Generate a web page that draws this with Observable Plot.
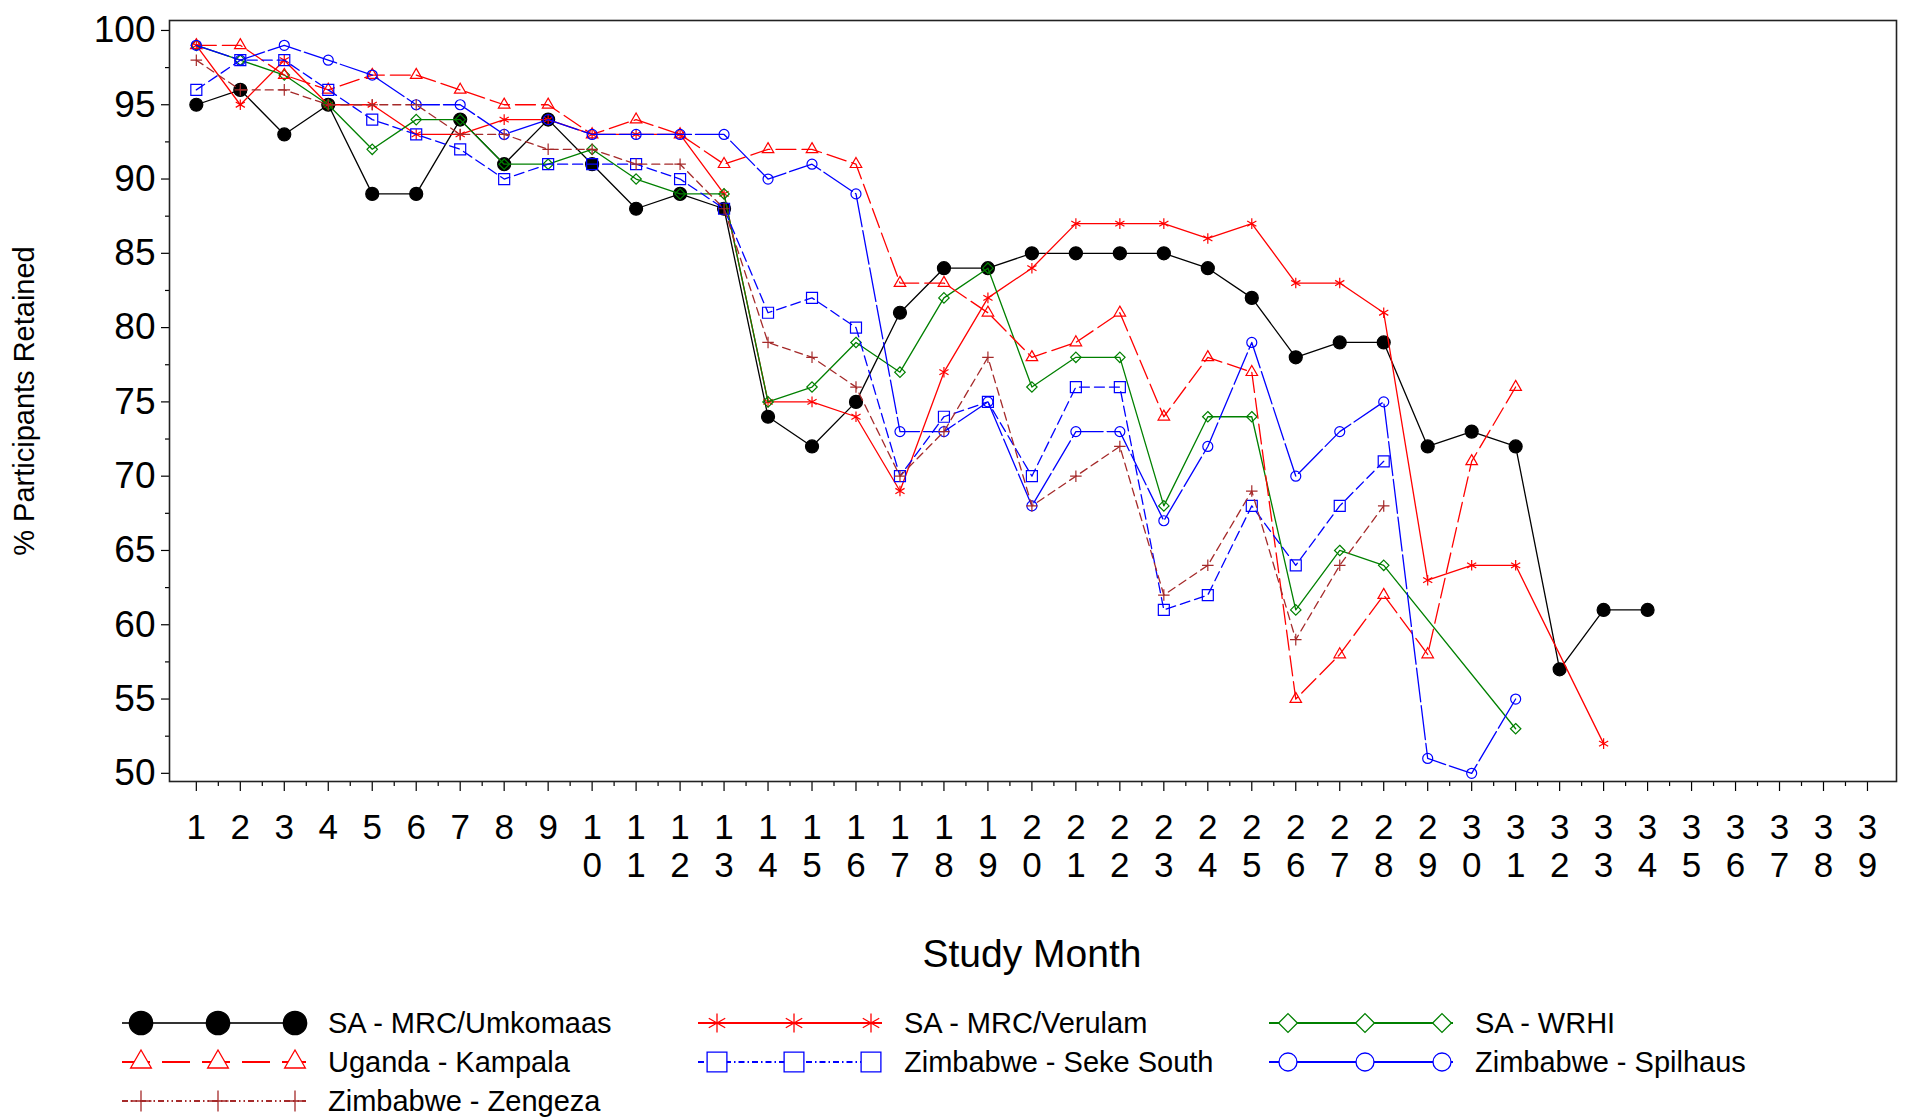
<!DOCTYPE html>
<html>
<head>
<meta charset="utf-8">
<script src="https://cdn.jsdelivr.net/npm/d3@7"></script>
<script src="https://cdn.jsdelivr.net/npm/@observablehq/plot@0.6"></script>
<style>
  html, body { margin: 0; padding: 0; background: #fff; overflow: hidden; }
  body { font-family: "Liberation Sans", Arial, sans-serif; }
  #chart svg, #legend svg { display: block; }
</style>
</head>
<body>
<div id="chart"></div>
<div id="legend"></div>
<script>
// ---- Data (percent participants retained by study month; null = no point) ----
const months = d3.range(1, 40);
const yTicks = d3.range(50, 101, 5);

const umkomaas = [95,96,93,95,89,89,94,91,94,91,88,89,88,74,72,75,81,84,84,85,85,85,85,84,82,78,79,79,72,73,72,57,61,61];
const verulam  = [99,95,98,95,95,93,93,94,94,93,93,93,89,75,75,74,69,77,82,84,87,87,87,86,87,83,83,81,63,64,64,null,52];
const wrhi     = [99,98,97,95,92,94,94,91,91,92,90,89,89,75,76,79,77,82,84,76,78,78,68,74,74,61,65,64,null,null,53];
const kampala  = [99,99,97,96,97,97,96,95,95,93,94,93,91,92,92,91,83,83,81,78,79,81,74,78,77,55,58,62,58,71,76];
const seke     = [96,98,98,96,94,93,92,90,91,91,91,90,88,81,82,80,70,74,75,70,76,76,61,62,68,64,68,71];
const spilhaus = [99,98,99,98,97,95,95,93,94,93,93,93,93,90,91,89,73,73,75,68,73,73,67,72,79,70,73,75,51,50,55];
const zengeza  = [98,96,96,95,95,95,93,93,92,92,91,91,88,79,78,76,70,73,78,68,70,72,62,64,69,59,64,68];

const seriesNames = ["SA - MRC/Umkomaas", "SA - MRC/Verulam", "SA - WRHI",
                     "Uganda - Kampala", "Zimbabwe - Seke South", "Zimbabwe - Spilhaus",
                     "Zimbabwe - Zengeza"];
const seriesValues = [umkomaas, verulam, wrhi, kampala, seke, spilhaus, zengeza];

// ---- Styles ----
const styles = [
  {color: "#000000", symbol: "circle",    r: 6.5, fill: "#000000", dash: null,   legDash: null},
  {color: "#ff0000", symbol: "asterisk",  r: 5,   fill: "none",    dash: null,   legDash: null},
  {color: "#008000", symbol: "diamond2",  r: 4.7, fill: "none",    dash: null,   legDash: null},
  {color: "#ff0000", symbol: "triangle2", r: 5.5, fill: "none",    dash: "20 6", legDash: "28 12"},
  {color: "#0000ff", symbol: "square2",   r: 7,   fill: "none",    dash: "10 5", legDash: "6 3 1.5 3"},
  {color: "#0000ff", symbol: "circle",    r: 5,   fill: "none",    dash: "34 4", legDash: null},
  {color: "#a52a2a", symbol: "plus",      r: 3.8, fill: "none",    dash: "8 5",  legDash: "6 3 1.5 3 1.5 3"}
];

const rows = seriesValues.map((vals, s) =>
  vals.map((v, i) => ({month: i + 1, value: v, series: seriesNames[s]})).filter(d => d.value != null)
);

const marks = [];
rows.forEach((data, s) => {
  const st = styles[s];
  marks.push(Plot.line(data, {
    x: "month", y: "value", stroke: st.color, strokeWidth: 1.3,
    strokeDasharray: st.dash ?? undefined
  }));
  marks.push(Plot.dot(data, {
    x: "month", y: "value", symbol: st.symbol, r: st.r,
    stroke: st.color, strokeWidth: 1.2, fill: st.fill
  }));
});

const chart = Plot.plot({
  width: 1907,
  height: 1000,
  marginTop: 20,
  marginLeft: 169,
  marginRight: 11,
  marginBottom: 219,
  style: {fontFamily: '"Liberation Sans", Arial, sans-serif', background: "#fff", color: "#000"},
  x: {domain: [0.39, 39.66], label: null},
  y: {domain: [49.45, 100.67], label: null},
  marks: [
    Plot.axisY({ticks: yTicks, tickSize: 8, tickPadding: 6, fontSize: 37, label: null, strokeWidth: 1.2}),
    Plot.axisY({ticks: d3.range(52.5, 100, 5), tickSize: 4, tickFormat: () => "", label: null, strokeWidth: 1.2}),
    Plot.axisX({ticks: months, tickSize: 10, tickPadding: 20, fontSize: 35, lineHeight: 1.1,
                tickFormat: d => String(d).split("").join("\n"), label: null, strokeWidth: 1.2}),
    Plot.axisX({ticks: d3.range(1.5, 39, 1), tickSize: 5, tickFormat: () => "", label: null, strokeWidth: 1.2}),
    ...marks,
    Plot.frame({stroke: "#222", strokeWidth: 1.6}),
    Plot.text(["% Participants Retained"], {text: d => d, frameAnchor: "left", dx: -145, rotate: -90,
               fontSize: 29, textAnchor: "middle", fill: "#000"}),
    Plot.text(["Study Month"], {text: d => d, frameAnchor: "bottom", dx: -1, dy: 185,
               fontSize: 39, textAnchor: "middle", fill: "#000"})
  ]
});
document.getElementById("chart").appendChild(chart);

// ---- Legend (below the SVG) ----
const symMap = {
  circle: d3.symbolCircle, asterisk: d3.symbolAsterisk, diamond2: d3.symbolDiamond2,
  triangle2: d3.symbolTriangle2, square2: d3.symbolSquare2, plus: d3.symbolPlus
};
const legendOrder = [0, 1, 2, 3, 4, 5, 6];
const colX = [122, 698, 1269];
const rowY = [23, 62, 101];
const leg = d3.select("#legend").append("svg")
  .attr("width", 1907).attr("height", 118)
  .style("font-family", '"Liberation Sans", Arial, sans-serif');
legendOrder.forEach((s, k) => {
  const st = styles[s];
  const x0 = colX[k % 3], y = rowY[Math.floor(k / 3)];
  const g = leg.append("g");
  g.append("line").attr("x1", x0).attr("x2", x0 + 184).attr("y1", y).attr("y2", y)
    .attr("stroke", s === 0 ? "#333" : st.color).attr("stroke-width", 2)
    .attr("stroke-dasharray", st.legDash);
  const rr = st.r * 1.8;
  [19, 96, 173].forEach(off => {
    g.append("path")
      .attr("d", d3.symbol(symMap[st.symbol], Math.PI * rr * rr)())
      .attr("transform", `translate(${x0 + off},${y})`)
      .attr("fill", st.fill === "none" ? "#fff" : st.fill)
      .attr("stroke", st.color).attr("stroke-width", 1.3);
  });
  g.append("text").attr("x", x0 + 206).attr("y", y).attr("dy", "0.35em")
    .attr("font-size", 29).attr("fill", "#000").text(seriesNames[s]);
});
</script>
</body>
</html>
